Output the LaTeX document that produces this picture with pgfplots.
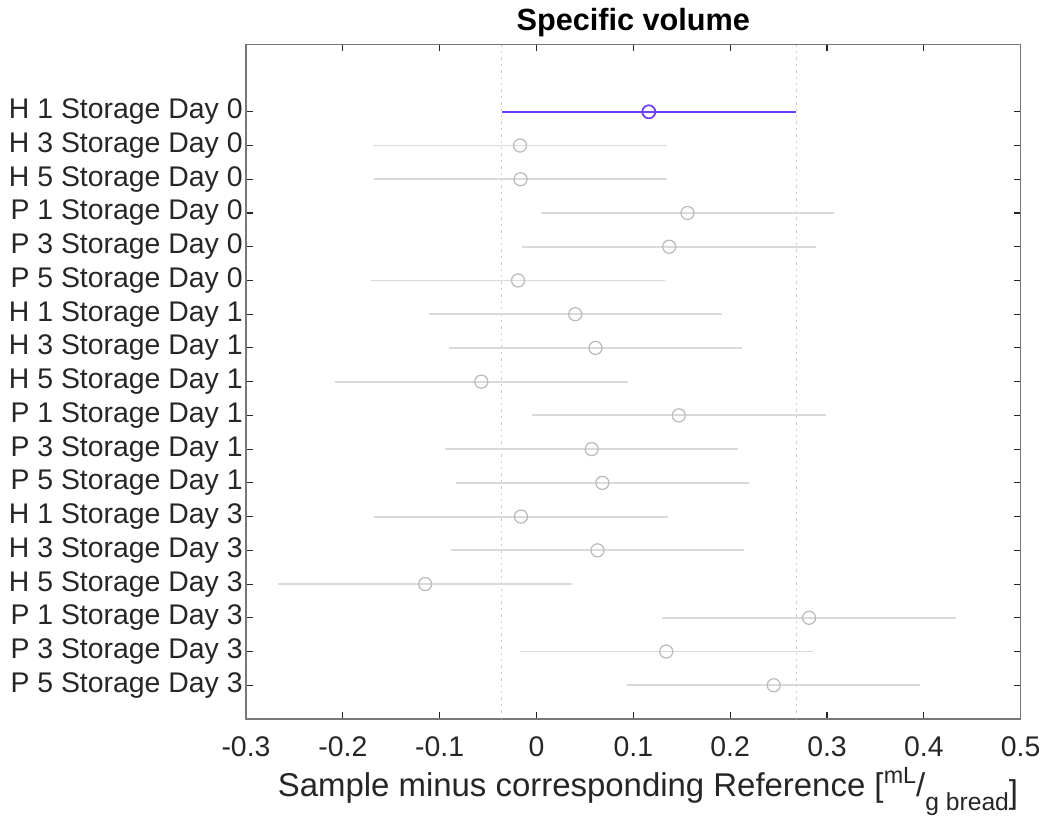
\documentclass[border=0pt]{standalone}
\usepackage{pgfplots}
\pgfplotsset{compat=1.18}
\usepackage{fontspec}
\setmainfont{Liberation Sans}
\definecolor{selblue}{RGB}{108,62,255}
\definecolor{intgray}{RGB}{218,218,218}
\definecolor{circgray}{RGB}{185,185,185}
\definecolor{dotgray}{RGB}{205,205,205}
\definecolor{axgray}{RGB}{120,120,120}
\definecolor{txt}{RGB}{38,38,38}
\begin{document}
\begin{tikzpicture}
\begin{axis}[
  at={(0,0)}, anchor=south west,
  scale only axis, width=581pt, height=506pt,
  xmin=-0.3, xmax=0.5, ymin=0, ymax=20,
  xtick={-0.3,-0.2,-0.1,0,0.1,0.2,0.3,0.4,0.5},
  xticklabels={-0.3,-0.2,-0.1,0,0.1,0.2,0.3,0.4,0.5},
  ytick={1,...,18},
  yticklabels={P 5 Storage Day 3,P 3 Storage Day 3,P 1 Storage Day 3,H 5 Storage Day 3,H 3 Storage Day 3,H 1 Storage Day 3,
               P 5 Storage Day 1,P 3 Storage Day 1,P 1 Storage Day 1,H 5 Storage Day 1,H 3 Storage Day 1,H 1 Storage Day 1,
               P 5 Storage Day 0,P 3 Storage Day 0,P 1 Storage Day 0,H 5 Storage Day 0,H 3 Storage Day 0,H 1 Storage Day 0},
  tick align=inside, major tick length=5pt,
  tick style={txt, line width=0.8pt},
  axis line style={axgray, line width=1.2pt},
  ticklabel style={font=\fontsize{21.3}{25}\selectfont, text=txt},
  xticklabel style={yshift=-10pt},
  yticklabel style={xshift=1pt},
  title={\bfseries Specific volume},
  title style={at={(0.5,1)}, anchor=base, yshift=4pt, font=\fontsize{23}{27}\selectfont, text=black},
  xlabel={Sample minus corresponding Reference [\raisebox{10.2pt}{\fontsize{17.5}{20}\selectfont mL}/\raisebox{-9.8pt}{\fontsize{18.5}{21}\selectfont g bread}\raisebox{-5pt}{]}},
  xlabel style={at={(0.5,0)}, anchor=base, xshift=11pt, yshift=-58.5pt, font=\fontsize{24.7}{29}\selectfont, text=txt},
  clip=false,
]
% dotted reference lines at the selected group's interval
\addplot[dotgray, line width=0.7pt, dash pattern=on 1.8pt off 3pt, forget plot] coordinates {(-0.036,0) (-0.036,20)};
\addplot[dotgray, line width=0.7pt, dash pattern=on 1.8pt off 3pt, forget plot] coordinates {(0.268,0) (0.268,20)};
% other groups
\addplot[circgray, only marks, mark=o, mark size=4.9pt, mark options={line width=0.9pt},
  error bars/.cd, x dir=both, x explicit, error mark=none,
  error bar style={intgray, line width=1.4pt}]
  table[x=m, y=y, x error=hw] {
  y  m       hw
  17 -0.017  0.1515
  16 -0.0165 0.1515
  15  0.156  0.1515
  14  0.137  0.1515
  13 -0.019  0.1515
  12  0.040  0.1515
  11  0.061  0.1515
  10 -0.057  0.1515
  9   0.147  0.1515
  8   0.057  0.1515
  7   0.068  0.1515
  6  -0.016  0.1515
  5   0.063  0.1515
  4  -0.115  0.1515
  3   0.2815 0.1515
  2   0.134  0.1515
  1   0.245  0.1515
  };
% selected group
\addplot[selblue, only marks, mark=o, mark size=4.9pt, mark options={line width=1.3pt},
  error bars/.cd, x dir=both, x explicit, error mark=none,
  error bar style={selblue, line width=1.5pt}]
  table[x=m, y=y, x error=hw] {
  y  m      hw
  18 0.116  0.152
  };
\end{axis}
\pgfresetboundingbox
\useasboundingbox (-184.5pt,-76.5pt) rectangle (595.5pt,539.25pt);
\end{tikzpicture}
\end{document}
